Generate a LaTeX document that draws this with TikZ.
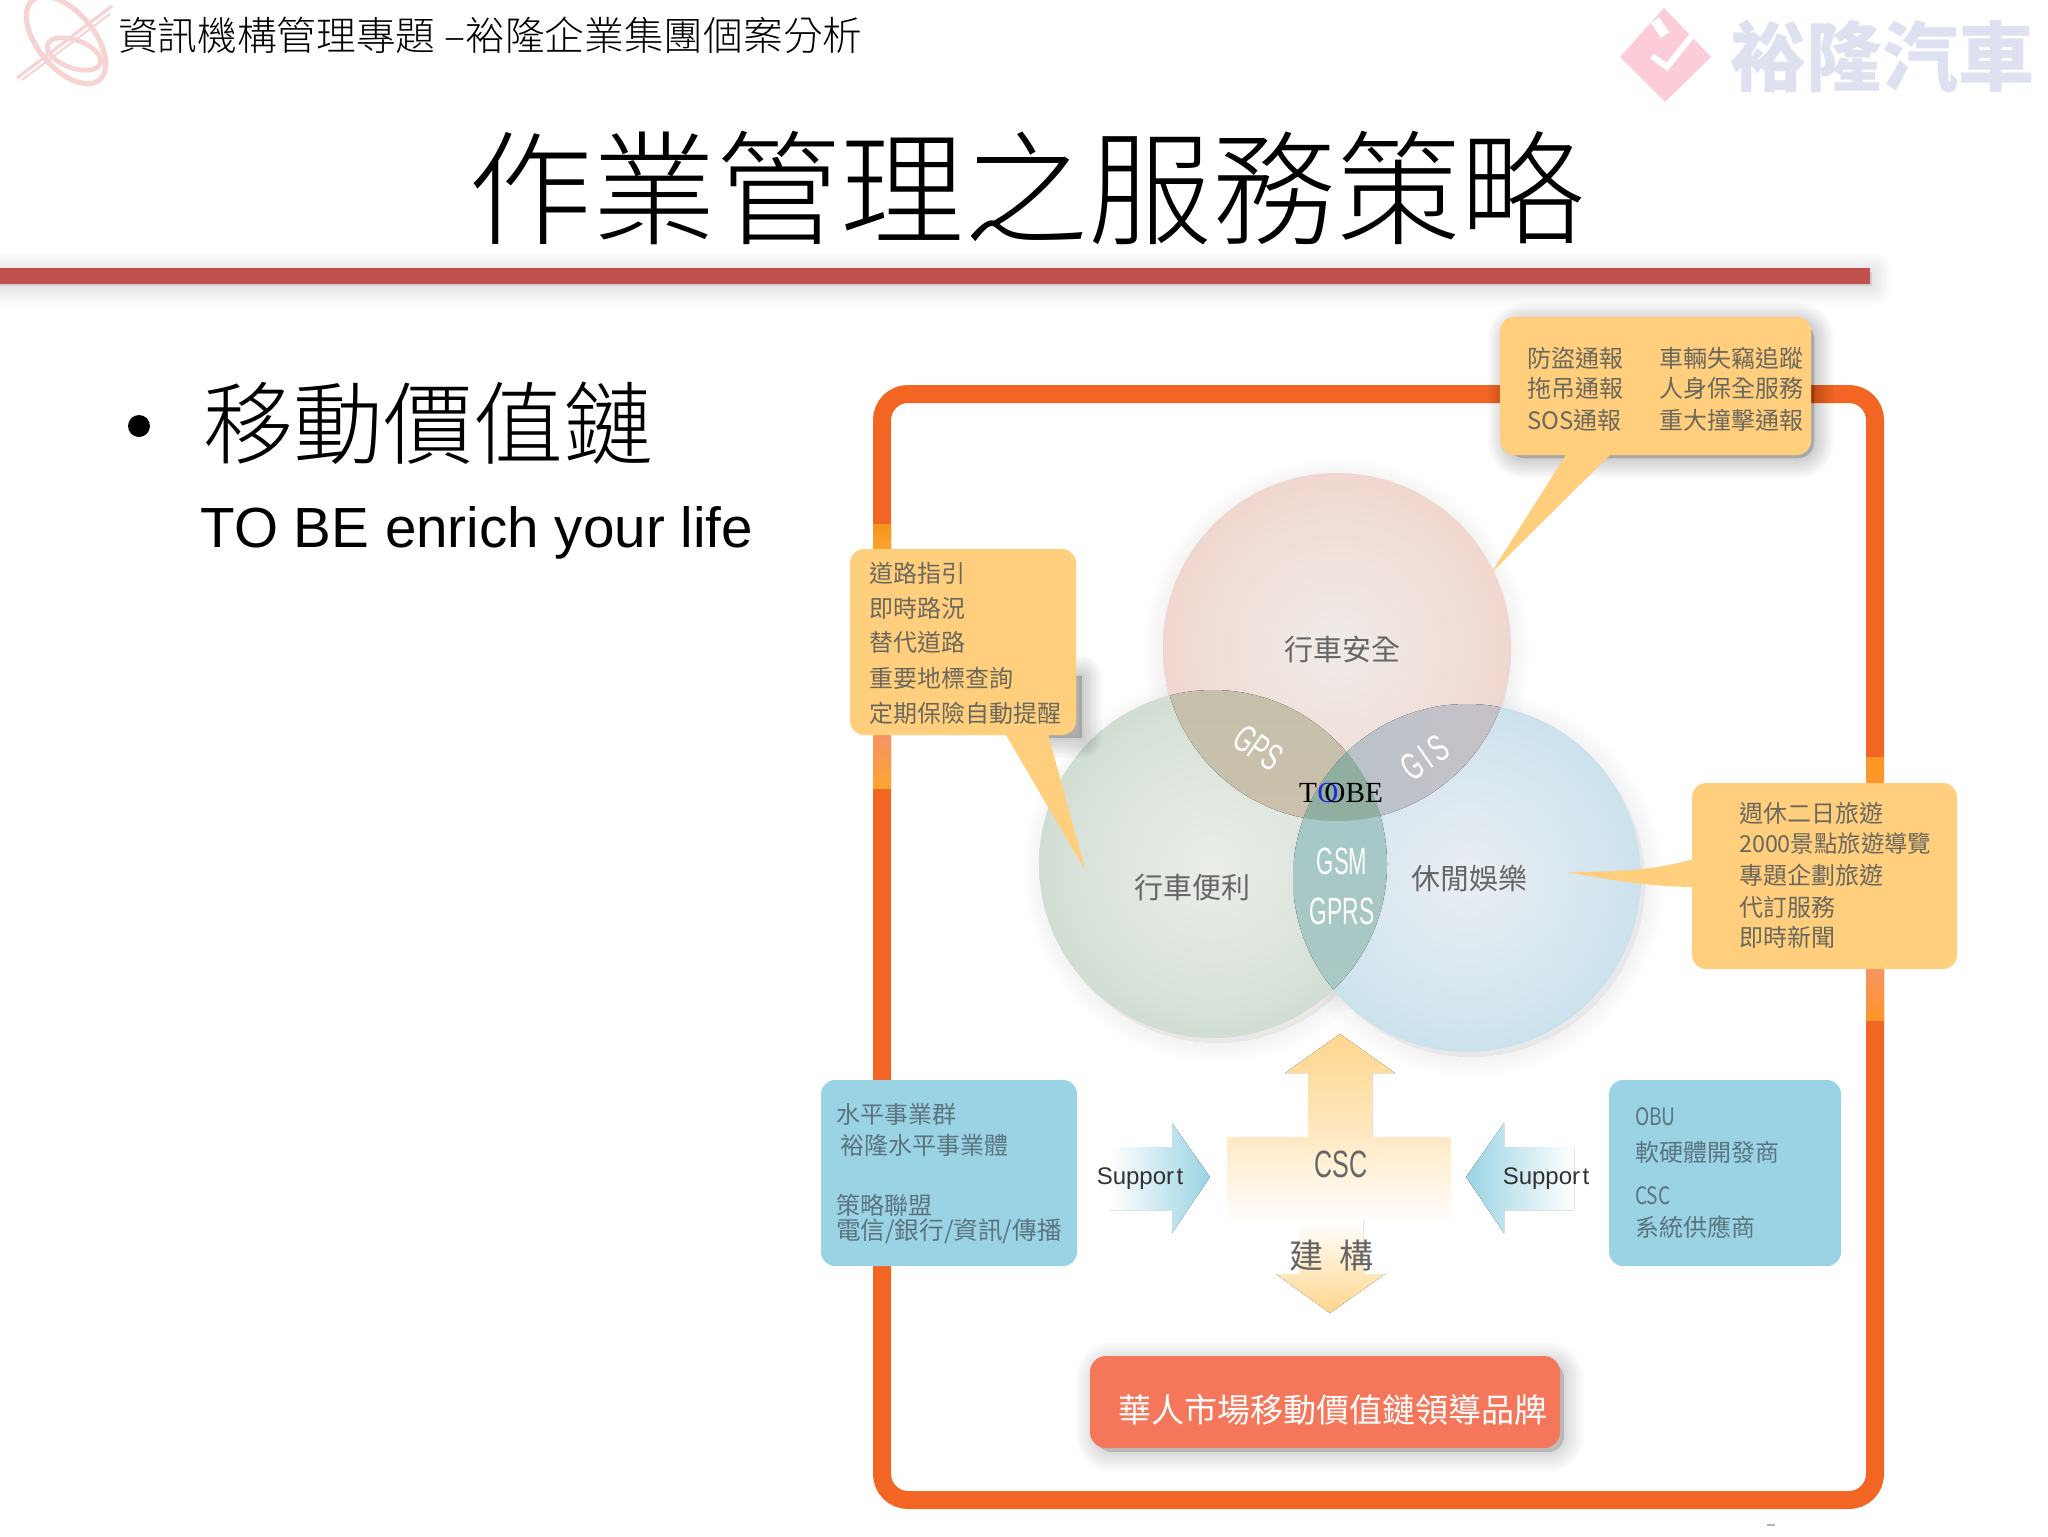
\documentclass[tikz,border=0pt]{standalone}
\usepackage{fontspec}
\usepackage{graphicx}
\setmainfont{Liberation Sans}
\newfontfamily\cjk{Noto Sans CJK TC}
\newfontfamily\cjklight{Noto Sans CJK TC Light}
\newfontfamily\serifen{Liberation Serif}
\definecolor{frameor}{HTML}{F26522}
\definecolor{frameli}{HTML}{FFA532}
\definecolor{frameri}{HTML}{FF9628}
\definecolor{calloutor}{HTML}{FFCF7E}
\definecolor{boxblue}{HTML}{9AD3E3}
\definecolor{redbox}{HTML}{F4775C}
\definecolor{barred}{HTML}{BF504D}
\definecolor{calltxt}{HTML}{6C685C}
\definecolor{bluetxt}{HTML}{5C7480}
\definecolor{circtxt}{HTML}{666666}
\definecolor{logopink}{HTML}{F6D4D4}
\definecolor{diapink}{HTML}{FCCDD8}
\definecolor{brandblue}{HTML}{DEE2F0}
\definecolor{csctop}{HTML}{FFD68C}
\definecolor{cscmid}{HTML}{FFE9C4}
\definecolor{tA}{HTML}{F0ECE9}\definecolor{tB}{HTML}{F0DCD5}\definecolor{tC}{HTML}{EFC8BC}
\definecolor{lA}{HTML}{EBEEE9}\definecolor{lB}{HTML}{D8E2D9}\definecolor{lC}{HTML}{BDD1BF}
\definecolor{rA}{HTML}{EAEEF3}\definecolor{rB}{HTML}{D3E5EF}\definecolor{rC}{HTML}{B4D8E8}
\definecolor{tlA}{HTML}{C5C0AA}\definecolor{tlB}{HTML}{D4BFB1}
\definecolor{trA}{HTML}{B6C2CC}\definecolor{trB}{HTML}{D3C1C3}
\definecolor{lrA}{HTML}{A3C7CB}\definecolor{lrB}{HTML}{ABC9C2}
\definecolor{triple}{HTML}{90AFA1}
\pgfdeclareradialshading{discT}{\pgfpointorigin}{color(0bp)=(tA);color(20bp)=(tB);color(38bp)=(tC);color(100bp)=(tC)}
\pgfdeclareradialshading{discL}{\pgfpointorigin}{color(0bp)=(lA);color(20bp)=(lB);color(38bp)=(lC);color(100bp)=(lC)}
\pgfdeclareradialshading{discR}{\pgfpointorigin}{color(0bp)=(rA);color(20bp)=(rB);color(38bp)=(rC);color(100bp)=(rC)}
\tikzset{
  base/.style={inner sep=0pt,outer sep=0pt},
  calltext/.style={base,anchor=west,text=calltxt,font=\cjk\fontsize{12}{14}\selectfont},
  bluetext/.style={base,anchor=west,text=bluetxt,font=\cjk\fontsize{12}{14}\selectfont},
  circlabel/.style={base,text=circtxt,font=\cjk\fontsize{14.5}{16}\selectfont},
  whitelabel/.style={base,text=white,font=\fontsize{19}{21}\selectfont},
  supportlabel/.style={base,text=black!80,font=\fontsize{12}{14}\selectfont},
}
\newcommand{\softshadow}[2][.014]{\foreach \w in {1,...,12}{\path[fill=black,draw=black,opacity=#1,line width=\w*1.7pt,line join=round] #2;}}
\begin{document}
\begin{tikzpicture}[x=0.5pt,y=-0.5pt]
\useasboundingbox (0,0) rectangle (2048,1536);
\fill[white] (0,0) rectangle (2048,1536);
% header logo
\begin{scope}[logopink]
  \draw[line width=2.6pt,rotate around={-50:(66,40)}] (66,40) ellipse (26pt and 14pt);
  \draw[line width=2.4pt,rotate around={-20:(74,54)}] (74,54) ellipse (14pt and 7pt);
  \draw[line width=1.6pt] (17,78) -- (112,6);
  \draw[line width=1pt] (22,80) -- (110,14);
\end{scope}
\node[base,anchor=west,font=\cjklight\fontsize{19.85}{24}\selectfont] (hdr) at (118,35) {資訊機構管理專題 –裕隆企業集團個案分析};
% top right logo
\fill[diapink] (1664,8) -- (1711,57) -- (1665,102) -- (1620,57) -- cycle;
\draw[white,line width=3pt] (1652,56) -- (1667,67) -- (1695,32);
\draw[white,line width=5pt] (1665,35) -- (1655,20);
\node[base,font=\cjk\bfseries\fontsize{38}{42}\selectfont,text=brandblue] (brand) at (1882,56) {裕隆汽車};
% title
\node[base,font=\cjklight\fontsize{62}{70}\selectfont] (title) at (1026,188) {作業管理之服務策略};
\softshadow[.008]{(0,272) rectangle (1872,286)}
\fill[barred] (0,268) rectangle (1870,284);
% bullet
\fill (139,426) circle (5.5pt);
\node[base,anchor=west,font=\cjklight\fontsize{45}{50}\selectfont] (bul) at (203,423) {移動價值鏈};
\node[base,anchor=west,font=\fontsize{28.3}{32}\selectfont] (enrich) at (200.5,533) {TO BE enrich your life};
% frame
\draw[frameor,line width=9pt,rounded corners=13pt] (882,394) rectangle (1875,1500);
\fill[top color=frameor!70!yellow,bottom color=frameli] (873,524) rectangle (891,552);
\fill[top color=frameor!70!white,bottom color=frameli] (873,735) rectangle (891,788);
\fill[frameri] (1866,757) rectangle (1884,785);
\fill[top color=frameor!70!white,bottom color=frameri] (1866,968) rectangle (1884,1020);
% circles
\softshadow[.0035]{(1337,652) circle (87pt)}
\softshadow[.0035]{(1217,869) circle (87pt)}
\softshadow[.0035]{(1471,883) circle (87pt)}
\def\cT{(1337,647) circle (87pt)}
\def\cL{(1213,864) circle (87pt)}
\def\cR{(1467,878) circle (87pt)}
\shade[shading=discT] \cT;
\shade[shading=discL] \cL;
\shade[shading=discR] \cR;
\begin{scope}\clip \cT; \fill[top color=tlA,bottom color=tlB] \cL; \end{scope}
\begin{scope}\clip \cT; \fill[left color=trA,right color=trB] \cR; \end{scope}
\begin{scope}\clip \cL; \fill[top color=lrA,bottom color=lrB] \cR; \end{scope}
\begin{scope}\clip \cT; \clip \cL; \fill[triple] \cR; \end{scope}
\node[circlabel] (safe) at (1342,649) {行車安全};
\node[circlabel] (conv) at (1192,887) {行車便利};
\node[circlabel] (fun) at (1469,878) {休閒娛樂};
\node[whitelabel,rotate=-35] (gps) at (1258,748) {\scalebox{.62}[1]{GPS}};
\node[whitelabel,rotate=35] (gis) at (1425,758) {\scalebox{.62}[1]{G\,I\,S}};
\node[whitelabel] (gsm) at (1342,861) {\scalebox{.58}[1]{GSM}};
\node[whitelabel] (gprs) at (1342,911) {\scalebox{.6}[1]{GPRS}};
\node[base,font=\serifen\fontsize{14.6}{16}\selectfont] (tobe) at (1341,793) {T\kern.2pt{\color{blue!70!gray}O}\kern-7pt OBE};
% top callout
\softshadow{(1508,323) [rounded corners=8pt] rectangle (1814,458)}
\fill[calloutor,rounded corners=7pt] (1500,317) rectangle (1811,455);
\fill[calloutor] (1569,450) -- (1491,573) -- (1615,450) -- cycle;
\node[calltext] (a1) at (1527,358) {防盜通報};
\node[calltext] (a2) at (1527,388) {拖吊通報};
\node[calltext] (a3) at (1527,420) {SOS通報};
\node[calltext] (a4) at (1659,358) {車輛失竊追蹤};
\node[calltext] (a5) at (1659,388) {人身保全服務};
\node[calltext] (a6) at (1659,420) {重大撞擊通報};
% left callout
\softshadow[.016]{(1040,676) rectangle (1082,738)}
\fill[calloutor,rounded corners=7pt] (850,549) rectangle (1076,735);
\fill[calloutor] (1003,730) -- (1085,870) -- (1047,730) -- cycle;
\node[calltext] (b1) at (869,573) {道路指引};
\node[calltext] (b2) at (869,608) {即時路況};
\node[calltext] (b3) at (869,642) {替代道路};
\node[calltext] (b4) at (869,678) {重要地標查詢};
\node[calltext] (b5) at (869,713) {定期保險自動提醒};
% right callout
\fill[calloutor,rounded corners=7pt] (1692,783) rectangle (1957,969);
\fill[calloutor] (1697,858) .. controls (1657,870) and (1620,872) .. (1567,872) .. controls (1620,882) and (1657,887) .. (1697,887) -- cycle;
\node[calltext] (c1) at (1739,813) {週休二日旅遊};
\node[calltext,font=\cjk\fontsize{11.7}{14}\selectfont] (c2) at (1739,844) {2000景點旅遊導覽};
\node[calltext] (c3) at (1739,875) {專題企劃旅遊};
\node[calltext] (c4) at (1739,907) {代訂服務};
\node[calltext] (c5) at (1739,937) {即時新聞};
% blue boxes
\fill[boxblue,rounded corners=7pt] (821,1080) rectangle (1077,1266);
\node[bluetext] (d1) at (836,1114) {水平事業群};
\node[bluetext] (d2) at (840,1145) {裕隆水平事業體};
\node[bluetext] (d3) at (836,1205) {策略聯盟};
\node[bluetext,font=\cjk\fontsize{12.3}{14}\selectfont] (d4) at (836,1231) {電信/銀行/資訊/傳播};
\fill[boxblue,rounded corners=7pt] (1609,1080) rectangle (1841,1266);
\node[bluetext] (e1) at (1635,1117) {\scalebox{.8}[1]{OBU}};
\node[bluetext] (e2) at (1635,1152) {軟硬體開發商};
\node[bluetext] (e3) at (1635,1196) {\scalebox{.8}[1]{CSC}};
\node[bluetext] (e4) at (1635,1227) {系統供應商};
% support arrows
\fill[left color=white,right color=boxblue] (1110,1147) -- (1172,1147) -- (1172,1123) -- (1210,1177) -- (1172,1233) -- (1172,1210) -- (1110,1210) -- cycle;
\fill[right color=white,left color=boxblue] (1574,1147) -- (1504,1147) -- (1504,1123) -- (1466,1177) -- (1504,1233) -- (1504,1210) -- (1574,1210) -- cycle;
\node[supportlabel] (s1) at (1140,1179) {Suppor\kern1.2pt t};
\node[supportlabel] (s2) at (1546,1179) {Suppor\kern1.2pt t};
% CSC cross
\fill[top color=csctop,bottom color=cscmid] (1340,1034) -- (1395,1073) -- (1372,1073) -- (1372,1137) -- (1308,1137) -- (1308,1073) -- (1285,1073) -- cycle;
\fill[top color=cscmid,bottom color=white] (1227,1137) rectangle (1451,1224);
\fill[top color=white,bottom color=csctop] (1299,1220) -- (1363,1220) -- (1363,1274) -- (1385,1274) -- (1330,1313) -- (1276,1274) -- (1299,1274) -- cycle;
\node[base,text=circtxt,font=\fontsize{19}{21}\selectfont] (csc) at (1341,1164) {\scalebox{.66}[1]{CSC}};
\node[base,text=circtxt,font=\cjk\fontsize{17}{18}\selectfont] (build) at (1331,1256) {建\hspace{8pt}構};
% red box
\softshadow[.012]{(1096,1362) [rounded corners=8pt] rectangle (1564,1452)}
\fill[redbox,rounded corners=8pt] (1090,1356) rectangle (1560,1448);
\node[base,text=white,font=\cjk\fontsize{16.5}{20}\selectfont] (brandline) at (1333,1410) {華人市場移動價值鏈領導品牌};
\fill[black!30] (1767,1524) rectangle (1775,1526);
\end{tikzpicture}
\end{document}
